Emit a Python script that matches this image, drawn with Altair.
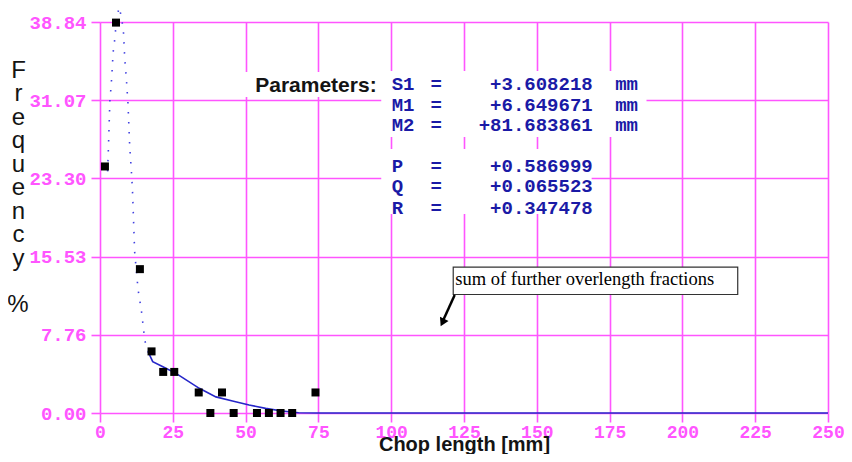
import altair as alt
import pandas as pd

# ---------------- data ----------------
chop_mm = [1.7, 5.5, 13.7, 17.7, 21.7, 25.5, 33.9, 37.9, 41.9, 45.9, 53.9, 58.0, 62.0, 66.0, 74.0]
freq_pct = [24.49, 38.78, 14.29, 6.12, 4.08, 4.08, 2.04, 0.0, 2.04, 0.0, 0.0, 0.0, 0.0, 0.0, 2.04]

fit_dot_x = [2.6, 2.8, 3.1, 3.4, 3.8, 4.1, 4.5, 5.1, 5.7, 6.6, 7.2, 8.0, 8.5, 9.0, 9.6,
             10.2, 10.9, 11.2, 11.9, 13.1, 14.2, 15.4, 16.5]
fit_dot_y = [24.0, 25.5, 28.3, 31.1, 32.4, 33.7, 35.8, 37.2, 39.2, 40.3, 39.5, 38.2, 35.2, 33.4, 30.8,
             26.5, 23.5, 21.8, 16.0, 12.2, 10.2, 7.2, 6.1]

fit_solid_x = [16.5, 18.1, 21.6, 26.1, 34.1, 39.8, 45.5, 51.2, 56.9, 62.5, 68.2, 75.0, 250.0]
fit_solid_y = [6.1, 5.1, 4.6, 3.94, 2.45, 1.6, 1.19, 0.79, 0.46, 0.2, 0.03, 0.0, 0.0]

x_ticks = [0, 25, 50, 75, 100, 125, 150, 175, 200, 225, 250]
y_ticks = [0.0, 7.76, 15.53, 23.30, 31.07, 38.84]

param_names = ["S1", "M1", "M2", "P", "Q", "R"]
param_eq = ["=", "=", "=", "=", "=", "="]
param_values = ["+3.608218", "+6.649671", "+81.683861", "+0.586999", "+0.065523", "+0.347478"]
param_units = ["mm", "mm", "mm", "", "", ""]

y_title_letters = ["F", "r", "e", "q", "u", "e", "n", "c", "y"]
y_title_unit = "%"
x_title = "Chop length [mm]"
params_label = "Parameters:"
note_text = "sum of further overlength fractions"

# ---------------- annotation placement (data units) ----------------
param_rows_y = [32.66, 30.59, 28.58, 24.56, 22.52, 20.41]
NAME_X, EQ_X, VAL_X, UNIT_X = 100.17, 113.5, 169.2, 176.9
PARAMS_LABEL_X, PARAMS_LABEL_Y = 95.0, 31.92
UNIT_TITLE_X, UNIT_TITLE_Y = -28.2, 10.03
bg_boxes = pd.DataFrame({
    "x": [47.95, 96.58, 96.58],
    "x2": [96.58, 187.67, 168.84],
    "y": [33.87, 33.97, 26.22],
    "y2": [31.39, 27.42, 19.77],
})
note_box = pd.DataFrame({"x": [121.3], "x2": [219.0], "y": [14.50], "y2": [11.77]})
note_pos = pd.DataFrame({"x": [122.0], "y": [12.71], "t": [note_text]})
arrow_line = pd.DataFrame({"x": [121.8], "y": [11.72], "x2": [117.9], "y2": [9.24]})
arrow_head = pd.DataFrame({"x": [117.6], "y": [8.99]})

PINK = "#ff55ff"
BLUE_TXT = "#1a1aa6"
BLUE_LINE = "#2626c8"

xs = alt.Scale(domain=[0, 250], nice=False, zero=False)
ys = alt.Scale(domain=[0, 38.84], nice=False, zero=False)

x_axis = alt.Axis(
    values=x_ticks, grid=True, gridColor=PINK, gridWidth=1.6, domain=False,
    tickColor=PINK, tickWidth=1.6, tickSize=9,
    labelFont="Liberation Mono", labelFontWeight="bold", labelFontSize=18,
    labelColor=PINK, labelPadding=1, labelFlush=False, labelBaseline="top",
    title=x_title, titleFont="Liberation Sans", titleFontSize=20, titleFontWeight="bold",
    titleColor="#141414", titleY=37, titleBaseline="alphabetic",
)
y_axis = alt.Axis(
    values=y_ticks, format=".2f", grid=True, gridColor=PINK, gridWidth=1.6, domain=False,
    tickColor=PINK, tickWidth=1.6, tickSize=9,
    labelFont="Liberation Mono", labelFontWeight="bold", labelFontSize=19,
    labelColor=PINK, labelPadding=5, labelFlush=False,
    title=y_title_letters, titleFont="Liberation Sans", titleFontSize=24, titleFontWeight="normal",
    titleColor="#141414", titleAngle=0, titleAlign="center", titleBaseline="top",
    titleX=-82, titleY=36, titleLineHeight=23.5,
)

pts = pd.DataFrame({"x": chop_mm, "y": freq_pct})
dots = pd.DataFrame({"x": fit_dot_x, "y": fit_dot_y, "o": list(range(len(fit_dot_x)))})
solid = pd.DataFrame({"x": fit_solid_x, "y": fit_solid_y, "o": list(range(len(fit_solid_x)))})

bg = alt.Chart(bg_boxes).mark_rect(color="white").encode(
    x=alt.X("x:Q", scale=xs, axis=x_axis), x2="x2", y=alt.Y("y:Q", scale=ys, axis=y_axis), y2="y2"
)

dot_line = alt.Chart(dots).mark_line(color="#4040e0", strokeWidth=1.6, strokeDash=[1.5, 8.5], clip=False).encode(
    x=alt.X("x:Q", scale=xs), y=alt.Y("y:Q", scale=ys), order="o:Q"
)
solid_line = alt.Chart(solid).mark_line(color=BLUE_LINE, strokeWidth=1.6, clip=False).encode(
    x=alt.X("x:Q", scale=xs), y=alt.Y("y:Q", scale=ys), order="o:Q"
)
squares = alt.Chart(pts).mark_square(size=64, color="#000000", opacity=1, filled=True).encode(
    x=alt.X("x:Q", scale=xs), y=alt.Y("y:Q", scale=ys)
)

ptab = pd.DataFrame({"n": param_names, "e": param_eq, "v": param_values, "u": param_units, "y": param_rows_y})
txt_kw = dict(font="Liberation Mono", fontWeight="bold", fontSize=19, color=BLUE_TXT, baseline="middle")
t_names = alt.Chart(ptab).mark_text(align="left", **txt_kw).encode(
    x=alt.X("nx:Q", scale=xs), y=alt.Y("y:Q", scale=ys), text="n:N"
).transform_calculate(nx=str(NAME_X))
t_eq = alt.Chart(ptab).mark_text(align="left", **txt_kw).encode(
    x=alt.X("ex:Q", scale=xs), y=alt.Y("y:Q", scale=ys), text="e:N"
).transform_calculate(ex=str(EQ_X))
t_val = alt.Chart(ptab).mark_text(align="right", **txt_kw).encode(
    x=alt.X("vx:Q", scale=xs), y=alt.Y("y:Q", scale=ys), text="v:N"
).transform_calculate(vx=str(VAL_X))
t_unit = alt.Chart(ptab).mark_text(align="left", **txt_kw).encode(
    x=alt.X("ux:Q", scale=xs), y=alt.Y("y:Q", scale=ys), text="u:N"
).transform_calculate(ux=str(UNIT_X))

plabel = alt.Chart(pd.DataFrame({"x": [PARAMS_LABEL_X], "y": [PARAMS_LABEL_Y], "t": [params_label]})).mark_text(
    align="right", baseline="alphabetic", font="Liberation Sans", fontWeight="bold", fontSize=21, color="#141414"
).encode(x=alt.X("x:Q", scale=xs), y=alt.Y("y:Q", scale=ys), text="t:N")

unit_title = alt.Chart(pd.DataFrame({"x": [UNIT_TITLE_X], "y": [UNIT_TITLE_Y], "t": [y_title_unit]})).mark_text(
    align="center", baseline="alphabetic", font="Liberation Sans", fontSize=24, color="#141414"
).encode(x=alt.X("x:Q", scale=xs), y=alt.Y("y:Q", scale=ys), text="t:N")

nbox = alt.Chart(note_box).mark_rect(fill="white", stroke="#333333", strokeWidth=1.2).encode(
    x=alt.X("x:Q", scale=xs), x2="x2", y=alt.Y("y:Q", scale=ys), y2="y2"
)
ntext = alt.Chart(note_pos).mark_text(
    align="left", baseline="alphabetic", font="Liberation Serif", fontSize=18.5, color="#000000"
).encode(x=alt.X("x:Q", scale=xs), y=alt.Y("y:Q", scale=ys), text="t:N")
aline = alt.Chart(arrow_line).mark_rule(color="#000000", strokeWidth=2.5).encode(
    x=alt.X("x:Q", scale=xs), y=alt.Y("y:Q", scale=ys), x2="x2", y2="y2"
)
ahead = alt.Chart(arrow_head).mark_point(shape="triangle-down", size=90, filled=True, color="#000000",
                                         opacity=1, angle=26).encode(
    x=alt.X("x:Q", scale=xs), y=alt.Y("y:Q", scale=ys)
)

chart = alt.layer(
    bg, solid_line, dot_line, squares, plabel, unit_title, t_names, t_eq, t_val, t_unit,
    nbox, ntext, aline, ahead
).properties(
    width=728, height=391,
    autosize=alt.AutoSizeParams(type="none"),
    padding={"left": 92, "top": 14, "right": 16, "bottom": 41},
    background="white",
).configure_view(stroke=None)

chart.save("out.html", embed_options={"renderer": "svg", "actions": False})
